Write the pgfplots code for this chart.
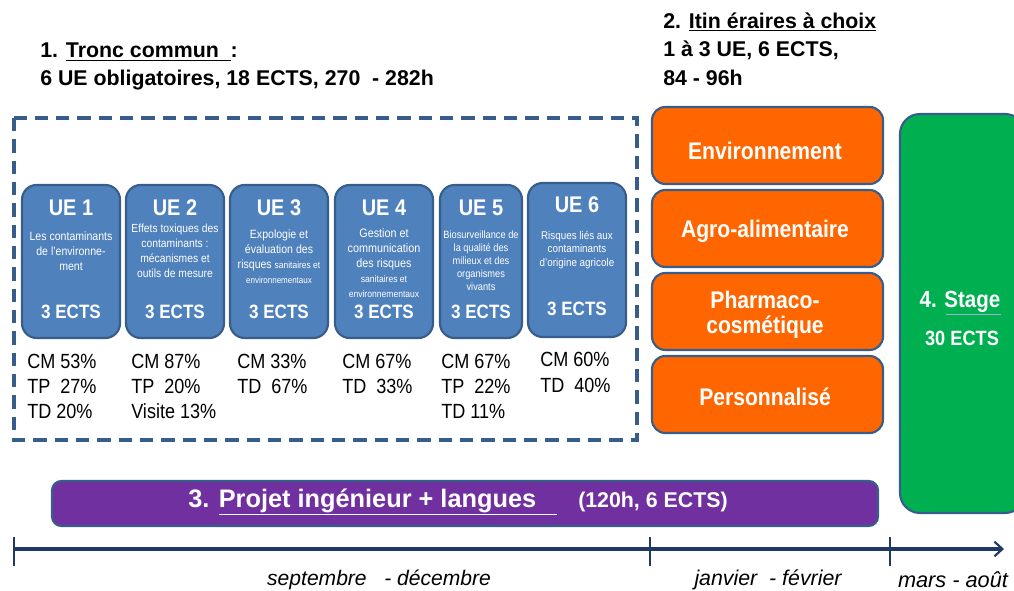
\documentclass[border=0pt]{standalone}
\usepackage{fontspec}
\setmainfont{Liberation Sans}[FakeStretch=0.88]
\newfontfamily\ns{Liberation Sans}
\usepackage{pgfplots}
\pgfplotsset{compat=1.18}
\usetikzlibrary{arrows.meta}
\definecolor{ueblue}{HTML}{4F81BD}
\definecolor{uebord}{HTML}{385D8A}
\definecolor{orng}{HTML}{FF6600}
\definecolor{grn}{HTML}{00B050}
\definecolor{purp}{HTML}{7030A0}
\definecolor{navy}{HTML}{1F3864}
\newcommand{\fs}[2]{\fontsize{#1}{#2}\selectfont}
\begin{document}
\begin{tikzpicture}
\begin{axis}[width=760.5pt,height=443.25pt,scale only axis,
  xmin=0,xmax=1014,ymin=0,ymax=591,y dir=reverse,hide axis,clip=false]
% titles
\node[anchor=west,inner sep=0,font=\ns\bfseries\fs{16}{18}] at (axis cs:40,52) {1. \underline{Tronc commun\ \ }:};
\node[anchor=west,inner sep=0,font=\ns\bfseries\fs{16}{18}] at (axis cs:40,80) {6 UE obligatoires, 18 ECTS, 270\ \ - 282h};
\node[anchor=west,inner sep=0,font=\ns\bfseries\fs{16}{18}] at (axis cs:663,22) {2. \underline{Itin éraires à choix}};
\node[anchor=west,inner sep=0,font=\ns\bfseries\fs{16}{18}] at (axis cs:663,50) {1 à 3 UE, 6 ECTS,};
\node[anchor=west,inner sep=0,font=\ns\bfseries\fs{16}{18}] at (axis cs:663,78) {84\ - 96h};
% dashed frame
\draw[uebord,line width=2.4pt,dash pattern=on 10pt off 6pt] (axis cs:14,118) rectangle (axis cs:637,440);
% UE boxes
\draw[uebord,fill=ueblue,line width=1.6pt,rounded corners=11pt] (axis cs:22,185) rectangle (axis cs:120,338);
\draw[uebord,fill=ueblue,line width=1.6pt,rounded corners=11pt] (axis cs:126,185) rectangle (axis cs:224,338);
\draw[uebord,fill=ueblue,line width=1.6pt,rounded corners=11pt] (axis cs:230,185) rectangle (axis cs:328,338);
\draw[uebord,fill=ueblue,line width=1.6pt,rounded corners=11pt] (axis cs:335,185) rectangle (axis cs:433,338);
\draw[uebord,fill=ueblue,line width=1.6pt,rounded corners=11pt] (axis cs:440,185) rectangle (axis cs:522,338);
\draw[uebord,fill=ueblue,line width=1.6pt,rounded corners=11pt] (axis cs:528,183) rectangle (axis cs:626,337);
% UE titles
\node[text=white,font=\bfseries\fs{17}{20}] at (axis cs:71,208) {UE 1};
\node[text=white,font=\bfseries\fs{17}{20}] at (axis cs:175,208) {UE 2};
\node[text=white,font=\bfseries\fs{17}{20}] at (axis cs:279,208) {UE 3};
\node[text=white,font=\bfseries\fs{17}{20}] at (axis cs:384,208) {UE 4};
\node[text=white,font=\bfseries\fs{17}{20}] at (axis cs:481,208) {UE 5};
\node[text=white,font=\bfseries\fs{17}{20}] at (axis cs:577,205) {UE 6};
% descriptions
\node[text=white,align=center,inner sep=0,font=\fs{9}{11.2}] at (axis cs:71,251) {Les contaminants\\de l'environne-\\ment};
\node[text=white,align=center,inner sep=0,font=\fs{8.8}{11.2}] at (axis cs:175,251) {Effets toxiques des\\contaminants :\\mécanismes et\\outils de mesure};
\node[text=white,align=center,inner sep=0,font=\fs{9}{11.2}] at (axis cs:279,257) {Expologie et\\évaluation des\\risques {\fs{7.2}{9}sanitaires et}\\{\fs{6.8}{9}environnementaux}};
\node[text=white,align=center,inner sep=0,font=\fs{9.2}{11.2}] at (axis cs:384,263) {Gestion et\\communication\\des risques\\{\fs{7.3}{9}sanitaires et}\\{\fs{7.3}{9}environnementaux}};
\node[text=white,align=center,inner sep=0,font=\fs{7.9}{9.7}] at (axis cs:481,261) {Biosurveillance de\\la qualité des\\milieux et des\\organismes\\vivants};
\node[text=white,align=center,inner sep=0,font=\fs{8.4}{10}] at (axis cs:577,250) {Risques liés aux\\contaminants\\d'origine agricole};
% ECTS
\node[text=white,font=\bfseries\fs{14.5}{16}] at (axis cs:71,312) {3 ECTS};
\node[text=white,font=\bfseries\fs{14.5}{16}] at (axis cs:175,312) {3 ECTS};
\node[text=white,font=\bfseries\fs{14.5}{16}] at (axis cs:279,312) {3 ECTS};
\node[text=white,font=\bfseries\fs{14.5}{16}] at (axis cs:384,312) {3 ECTS};
\node[text=white,font=\bfseries\fs{14.5}{16}] at (axis cs:481,312) {3 ECTS};
\node[text=white,font=\bfseries\fs{14.5}{16}] at (axis cs:577,309) {3 ECTS};
% percentages
\node[anchor=west,inner sep=0,font=\fs{15.4}{17}] at (axis cs:27,361) {CM 53\%};
\node[anchor=west,inner sep=0,font=\fs{15.4}{17}] at (axis cs:27,386) {TP\ \ 27\%};
\node[anchor=west,inner sep=0,font=\fs{15.4}{17}] at (axis cs:27,411) {TD 20\%};
\node[anchor=west,inner sep=0,font=\fs{15.4}{17}] at (axis cs:131,361) {CM 87\%};
\node[anchor=west,inner sep=0,font=\fs{15.4}{17}] at (axis cs:131,386) {TP\ \ 20\%};
\node[anchor=west,inner sep=0,font=\fs{15.4}{17}] at (axis cs:131,411) {Visite\ 13\%};
\node[anchor=west,inner sep=0,font=\fs{15.4}{17}] at (axis cs:237,361) {CM 33\%};
\node[anchor=west,inner sep=0,font=\fs{15.4}{17}] at (axis cs:237,386) {TD\ \ 67\%};
\node[anchor=west,inner sep=0,font=\fs{15.4}{17}] at (axis cs:342,361) {CM 67\%};
\node[anchor=west,inner sep=0,font=\fs{15.4}{17}] at (axis cs:342,386) {TD\ \ 33\%};
\node[anchor=west,inner sep=0,font=\fs{15.4}{17}] at (axis cs:441,361) {CM 67\%};
\node[anchor=west,inner sep=0,font=\fs{15.4}{17}] at (axis cs:441,386) {TP\ \ 22\%};
\node[anchor=west,inner sep=0,font=\fs{15.4}{17}] at (axis cs:441,411) {TD 11\%};
\node[anchor=west,inner sep=0,font=\fs{15.4}{17}] at (axis cs:540,359) {CM 60\%};
\node[anchor=west,inner sep=0,font=\fs{15.4}{17}] at (axis cs:540,385) {TD\ \ 40\%};
% orange boxes
\draw[uebord,fill=orng,line width=1.6pt,rounded corners=10pt] (axis cs:652,107) rectangle (axis cs:883,184);
\draw[uebord,fill=orng,line width=1.6pt,rounded corners=10pt] (axis cs:652,190) rectangle (axis cs:883,267);
\draw[uebord,fill=orng,line width=1.6pt,rounded corners=10pt] (axis cs:652,273) rectangle (axis cs:883,350);
\draw[uebord,fill=orng,line width=1.6pt,rounded corners=10pt] (axis cs:652,356) rectangle (axis cs:883,433);
\node[text=white,font=\bfseries\fs{18}{20}] at (axis cs:765,151) {Environnement};
\node[text=white,font=\bfseries\fs{18}{20}] at (axis cs:765,231) {Agro-alimentaire};
\node[text=white,font=\bfseries\fs{18}{20}] at (axis cs:765,300) {Pharmaco-};
\node[text=white,font=\bfseries\fs{18}{20}] at (axis cs:765,327) {cosmétique};
\node[text=white,font=\bfseries\fs{18}{20}] at (axis cs:765,397) {Personnalisé};
% stage
\draw[uebord,fill=grn,line width=1.6pt,rounded corners=15pt] (axis cs:900,114) rectangle (axis cs:1025,513);
\node[text=white,font=\bfseries\fs{17.5}{20}] at (axis cs:960,302) {4. Stage};
\draw[ueblue!60!white,line width=0.6pt] (axis cs:946,314) -- (axis cs:1001,314);
\node[text=white,font=\bfseries\fs{15.5}{16}] at (axis cs:962,338) {30 ECTS};
% projet
\draw[uebord,fill=purp,line width=1.6pt,rounded corners=7pt] (axis cs:52,481) rectangle (axis cs:878,526);
\node[anchor=west,inner sep=0,text=white,font=\ns\bfseries\fs{19}{22}] at (axis cs:188,502) {3. \underline{Projet ingénieur + langues\ \ \ }};
\node[anchor=west,inner sep=0,text=white,font=\ns\bfseries\fs{16}{18}] at (axis cs:578,502) {(120h, 6 ECTS)};
% timeline
\draw[navy,line width=2.4pt,-{Straight Barb[length=6pt,width=11pt,line width=1.6pt]}] (axis cs:14,549) -- (axis cs:1004,549);
\draw[navy,line width=1.5pt] (axis cs:14,537) -- (axis cs:14,566);
\draw[navy,line width=1.5pt] (axis cs:650,537) -- (axis cs:650,566);
\draw[navy,line width=1.5pt] (axis cs:890,537) -- (axis cs:890,566);
\node[font=\ns\itshape\fs{15.8}{17}] at (axis cs:379,580) {septembre\ \ \ - décembre};
\node[font=\ns\itshape\fs{16}{17}] at (axis cs:768,580) {janvier\ \ - février};
\node[font=\ns\itshape\fs{16.3}{17}] at (axis cs:953,580) {mars - août};
\end{axis}
\pgfresetboundingbox
\path[use as bounding box] (0,0) rectangle (760.5pt,443.25pt);
\end{tikzpicture}
\end{document}
